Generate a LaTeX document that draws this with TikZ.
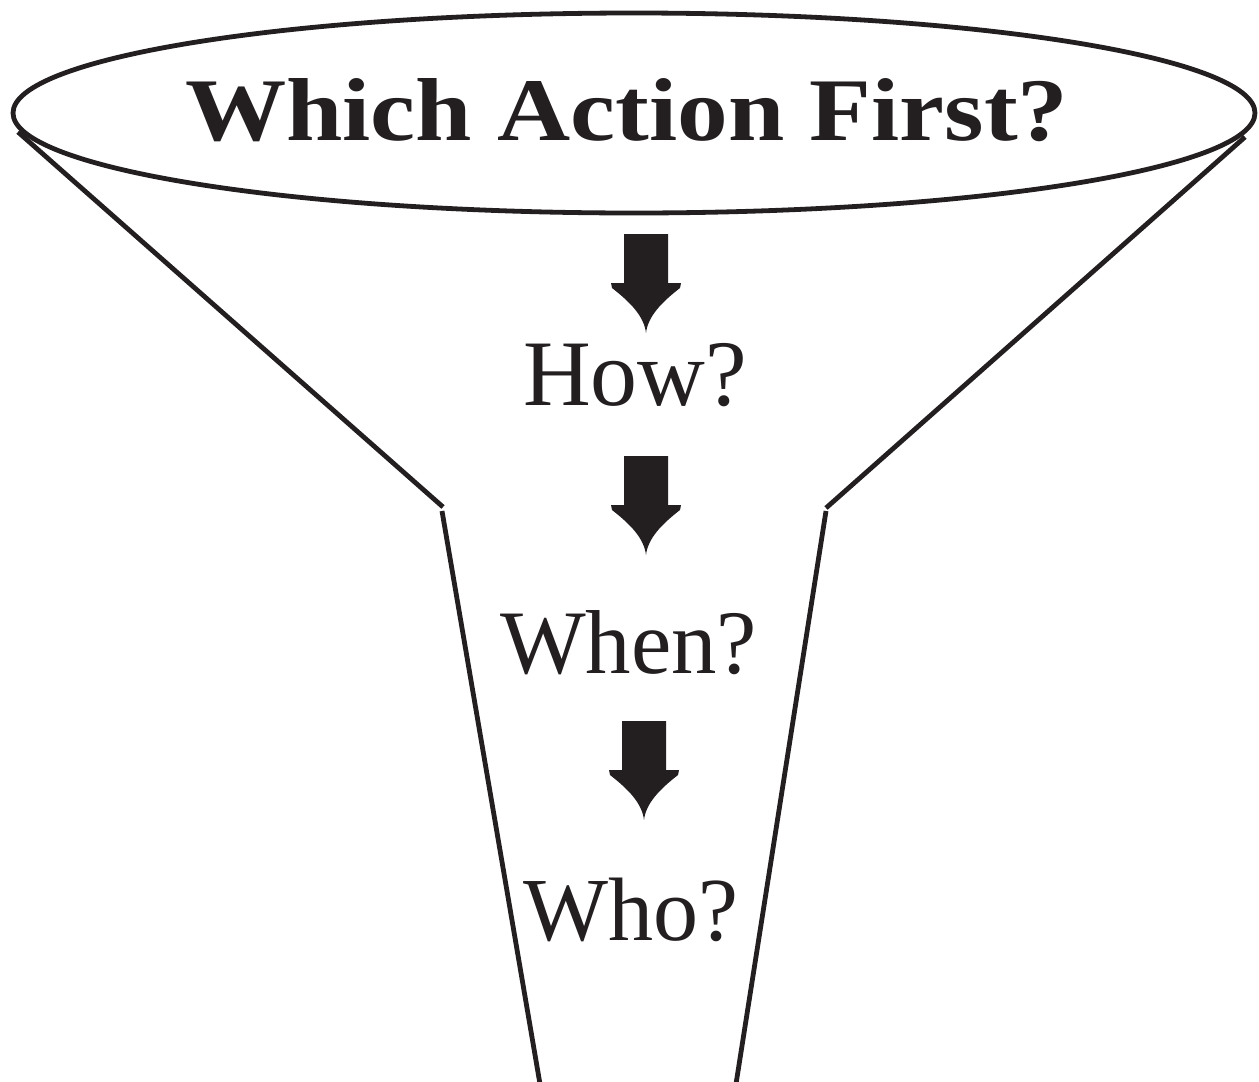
\documentclass[tikz,border=0pt]{standalone}
\usepackage{fontspec}
\usepackage{graphicx}
\setmainfont{Liberation Serif}
\usetikzlibrary{shapes.geometric}
\definecolor{ink}{HTML}{231F20}
\begin{document}
\begin{tikzpicture}[x=1pt,y=-1pt,
  funnel/.style={draw=ink, line width=4.8pt},
  qtext/.style={inner sep=0pt, anchor=base west, text=ink},
  downarrow/.pic={\fill[ink] (-22,0) -- (22,0) -- (22,49) -- (35,49) -- (34,54)
     .. controls (16,68) and (2,82) .. (0,99)
     .. controls (-2,82) and (-16,68) .. (-34,54) -- (-35,49) -- (-22,49) -- cycle;}
]
\useasboundingbox (0,0) rectangle (1259,1082);
% funnel outline
\coordinate (tl) at (18,132);
\coordinate (nl) at (443,507);
\coordinate (sl) at (442,511);
\coordinate (bl) at (540,1084);
\coordinate (tr) at (1245,137);
\coordinate (nr) at (826,508);
\coordinate (sr) at (826,511);
\coordinate (br) at (736,1084);
\draw[funnel] (tl) -- (nl);
\draw[funnel] (sl) -- (bl);
\draw[funnel] (tr) -- (nr);
\draw[funnel] (sr) -- (br);
\node[ellipse, draw=ink, line width=4.8pt, minimum width=1242pt, minimum height=200pt, inner sep=0pt] (bowl) at (634,113) {};
% texts
\node[qtext] (title) at (185,140) {\resizebox{883pt}{62pt}{\bfseries Which Action First?}};
\node[qtext] (how) at (523,405) {\resizebox{224pt}{!}{How?}};
\node[qtext] (when) at (500,673) {\resizebox{257pt}{!}{When?}};
\node[qtext] (who) at (523,940) {\resizebox{215pt}{!}{Who?}};
% arrows
\pic (a1) at (646,234) {downarrow};
\pic (a2) at (646,456) {downarrow};
\pic (a3) at (644,721) {downarrow};
\end{tikzpicture}
\end{document}
